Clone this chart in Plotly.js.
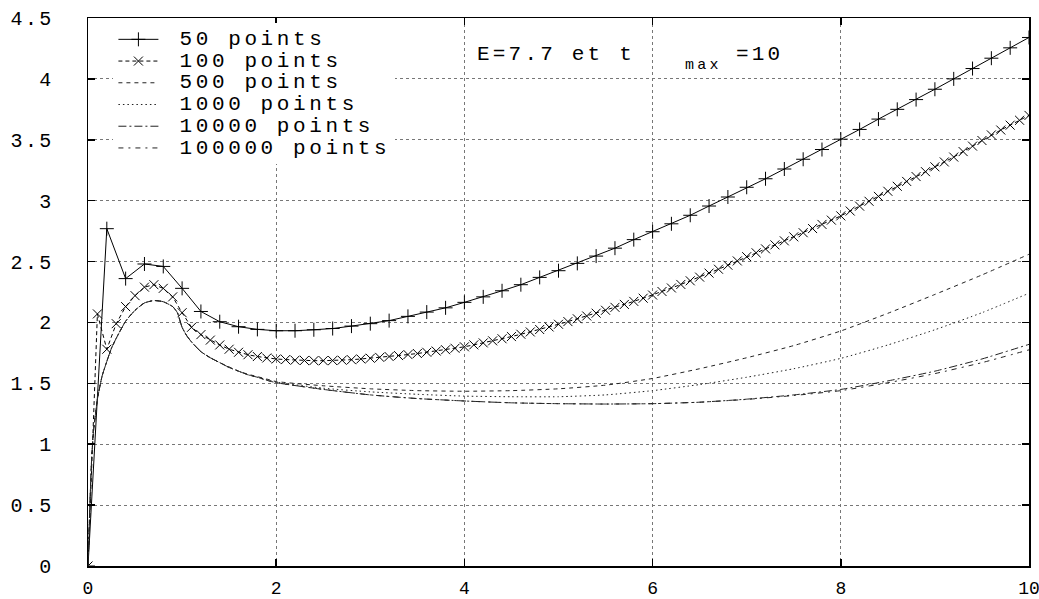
<!DOCTYPE html>
<html>
<head>
<meta charset="utf-8">
<script src="https://cdn.plot.ly/plotly-3.0.1.min.js"></script>
<style>
html,body{margin:0;padding:0;background:#fff;}
.ytick text { letter-spacing: 2.4px; }
.legendtext { letter-spacing: 3.6px; }
.annotation-text { letter-spacing: 3.2px; }
</style>
</head>
<body>
<div id="chart" style="width:1039px;height:599px;"></div>
<script>
// ---- data ----
const step50 = 0.2;
const y50 = [0, 2.77, 2.36, 2.48, 2.46, 2.28, 2.09, 2.006, 1.965, 1.943,
  1.932, 1.932, 1.94, 1.95, 1.97, 1.99, 2.015, 2.05, 2.085, 2.12,
  2.165, 2.21, 2.26, 2.31, 2.37, 2.425, 2.485, 2.545, 2.61, 2.68,
  2.745, 2.81, 2.88, 2.956, 3.03, 3.11, 3.18, 3.26, 3.34, 3.42,
  3.505, 3.585, 3.67, 3.75, 3.83, 3.915, 4.0, 4.085, 4.17, 4.255, 4.34];

const step100 = 0.1;
const y100 = [0, 2.07, 1.78, 1.99, 2.13, 2.22, 2.29, 2.31, 2.28, 2.21,
  2.08, 1.96, 1.90, 1.855, 1.815, 1.78, 1.755, 1.735, 1.72, 1.708,
  1.70, 1.695, 1.69, 1.688, 1.686, 1.686, 1.687, 1.69, 1.694, 1.70,
  1.706, 1.713, 1.72, 1.728, 1.736, 1.745, 1.755, 1.765, 1.776, 1.788,
  1.80, 1.816, 1.832, 1.849, 1.866, 1.884, 1.903, 1.922, 1.942, 1.963,
  1.985, 2.007, 2.03, 2.053, 2.076, 2.10, 2.124, 2.148, 2.173, 2.199,
  2.225, 2.254, 2.283, 2.312, 2.342, 2.372, 2.405, 2.437, 2.47, 2.505,
  2.54, 2.572, 2.604, 2.637, 2.67, 2.703, 2.737, 2.771, 2.805, 2.84,
  2.875, 2.915, 2.955, 2.995, 3.035, 3.077, 3.118, 3.158, 3.198, 3.238,
  3.278, 3.318, 3.358, 3.403, 3.448, 3.494, 3.54, 3.58, 3.62, 3.66, 3.70];

const xLow = [0, 0.02, 0.04, 0.06, 0.08, 0.1, 0.15, 0.2, 0.25, 0.3,
  0.4, 0.5, 0.6, 0.7, 0.8, 0.9, 0.95, 1.0, 1.05, 1.1,
  1.2, 1.3, 1.4, 1.5, 1.6, 1.7, 1.8, 1.9, 2.0,
  2.5, 3, 3.5, 4, 4.5, 5, 5.5, 6, 6.5, 7, 7.5, 8, 8.5, 9, 9.5, 10];

const y500 = [0, 0.5, 0.9, 1.12, 1.25, 1.37, 1.56, 1.68, 1.79, 1.87,
  2.01, 2.10, 2.16, 2.18, 2.17, 2.13, 2.08, 1.96, 1.89, 1.84,
  1.76, 1.71, 1.67, 1.635, 1.60, 1.575, 1.555, 1.535, 1.515,
  1.48, 1.455, 1.44, 1.435, 1.44, 1.455, 1.485, 1.54, 1.62, 1.71, 1.81, 1.93, 2.075, 2.23, 2.39, 2.56];

const y1000 = [0, 0.5, 0.9, 1.12, 1.25, 1.37, 1.56, 1.68, 1.79, 1.87,
  2.01, 2.10, 2.16, 2.18, 2.17, 2.13, 2.08, 1.96, 1.89, 1.84,
  1.76, 1.71, 1.67, 1.63, 1.60, 1.57, 1.55, 1.53, 1.51,
  1.46, 1.43, 1.41, 1.395, 1.39, 1.39, 1.405, 1.44, 1.49, 1.55, 1.62, 1.705, 1.815, 1.94, 2.08, 2.24];

const y10000 = [0, 0.5, 0.9, 1.12, 1.25, 1.37, 1.56, 1.68, 1.79, 1.87,
  2.01, 2.10, 2.16, 2.18, 2.17, 2.13, 2.08, 1.96, 1.89, 1.84,
  1.76, 1.71, 1.67, 1.63, 1.60, 1.57, 1.55, 1.525, 1.505,
  1.45, 1.405, 1.375, 1.355, 1.34, 1.333, 1.33, 1.333, 1.345, 1.37, 1.405, 1.45, 1.52, 1.60, 1.70, 1.82];

const y100000 = [0, 0.5, 0.9, 1.12, 1.25, 1.37, 1.56, 1.68, 1.79, 1.87,
  2.01, 2.10, 2.16, 2.18, 2.17, 2.13, 2.08, 1.96, 1.89, 1.84,
  1.76, 1.71, 1.67, 1.63, 1.60, 1.57, 1.55, 1.525, 1.505,
  1.45, 1.405, 1.375, 1.355, 1.34, 1.333, 1.33, 1.333, 1.345, 1.368, 1.40, 1.44, 1.505, 1.58, 1.67, 1.775];

const seriesNames = ['50 points', '100 points', '500 points', '1000 points', '10000 points', '100000 points'];
const yTicks = [0, 0.5, 1, 1.5, 2, 2.5, 3, 3.5, 4, 4.5];
const yTickText = ['0', '0.5', '1', '1.5', '2', '2.5', '3', '3.5', '4', '4.5'];
const xTicks = [0, 2, 4, 6, 8, 10];
const xTickText = ['0', '2', '4', '6', '8', '10'];
const noteMain = 'E=7.7 et t';
const noteSub = 'max';
const noteEnd = '=10';

// ---- build ----
const x50 = y50.map((_, i) => +(i * step50).toFixed(2));
const x100 = y100.map((_, i) => +(i * step100).toFixed(2));
const FONT = '"Liberation Mono", "Courier New", monospace';
const nm = s => '<span style="font-size:21px">\u00a0' + s + '</span>';
const yPad = '\u00a0\u00a0';

const traces = [
  {x: x50, y: y50, name: nm(seriesNames[0]), mode: 'lines+markers',
   line: {color: '#000', width: 1},
   marker: {symbol: 'cross-thin-open', size: 10, color: '#000', line: {color: '#000', width: 1}}},
  {x: x100, y: y100, name: nm(seriesNames[1]), mode: 'lines+markers',
   line: {color: '#000', width: 1, dash: '4px,3px'},
   marker: {symbol: 'x-thin-open', size: 9, color: '#000', line: {color: '#000', width: 1}}},
  {x: xLow, y: y500, name: nm(seriesNames[2]), mode: 'lines',
   line: {color: '#222', width: 1, dash: '4px,4px', shape: 'spline', smoothing: 0.5}},
  {x: xLow, y: y1000, name: nm(seriesNames[3]), mode: 'lines',
   line: {color: '#222', width: 1, dash: '1.5px,3px', shape: 'spline', smoothing: 0.5}},
  {x: xLow, y: y10000, name: nm(seriesNames[4]), mode: 'lines',
   line: {color: '#222', width: 1, dash: '8px,3px,2px,3px', shape: 'spline', smoothing: 0.5}},
  {x: xLow, y: y100000, name: nm(seriesNames[5]), mode: 'lines',
   line: {color: '#222', width: 1, dash: '5px,5px,2px,5px', shape: 'spline', smoothing: 0.5}}
];

const axisCommon = {
  showline: true, linecolor: '#000', linewidth: 1.5, mirror: 'ticks',
  ticks: 'inside', ticklen: 7, tickwidth: 1.5, tickcolor: '#000',
  showgrid: true, gridcolor: '#777', gridwidth: 1, griddash: 'dot',
  zeroline: false, tickfont: {family: FONT, size: 20, color: '#000'}
};

const layout = {
  width: 1039, height: 599,
  margin: {l: 88, r: 10, t: 18, b: 33},
  paper_bgcolor: '#fff', plot_bgcolor: '#fff',
  showlegend: true,
  legend: {x: 0.027, y: 0.99, xanchor: 'left', yanchor: 'top',
    bgcolor: '#fff', borderwidth: 0, font: {family: FONT, size: 14.4, color: '#000'},
    itemwidth: 40, tracegroupgap: 0},
  xaxis: Object.assign({}, axisCommon, {range: [0, 10], tickvals: xTicks, ticktext: xTickText,
    ticklabelstandoff: 5, ticklabeloverflow: 'allow',
    tickfont: {family: FONT, size: 18, color: '#000'}}),
  yaxis: Object.assign({}, axisCommon, {range: [0, 4.5], tickvals: yTicks,
    ticktext: yTickText.map(t => t + yPad), ticklabelstandoff: 0}),
  annotations: [
    {x: 4.11, y: 4.2, xref: 'x', yref: 'y', xanchor: 'left', yanchor: 'middle', showarrow: false,
     text: noteMain, font: {family: FONT, size: 21, color: '#000'}},
    {x: 6.32, y: 4.11, xref: 'x', yref: 'y', xanchor: 'left', yanchor: 'middle', showarrow: false,
     text: noteSub, font: {family: FONT, size: 15, color: '#000'}},
    {x: 6.87, y: 4.2, xref: 'x', yref: 'y', xanchor: 'left', yanchor: 'middle', showarrow: false,
     text: noteEnd, font: {family: FONT, size: 21, color: '#000'}}
  ]
};

Plotly.newPlot('chart', traces, layout, {staticPlot: true, displayModeBar: false});
</script>
</body>
</html>
